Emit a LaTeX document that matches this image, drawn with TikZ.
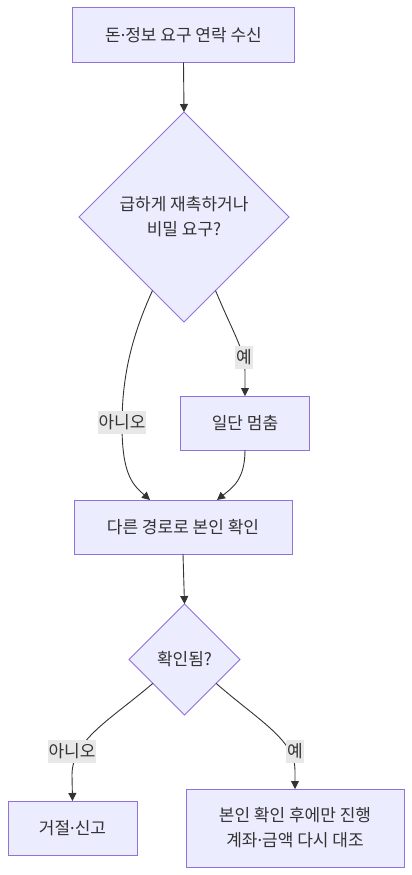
\documentclass[tikz,border=0pt]{standalone}
\usepackage{fontspec}
\setmainfont{Noto Sans CJK KR}
\newfontfamily\latinf{Noto Sans}
\newcommand{\mdot}{{\latinf ·}}
\usetikzlibrary{shapes.geometric,arrows.meta,calc}
\definecolor{nodefill}{HTML}{ECECFF}
\definecolor{nodeline}{HTML}{9370DB}
\definecolor{edgecol}{HTML}{333333}
\definecolor{lblbg}{HTML}{E8E8E8}
\begin{document}
\begin{tikzpicture}[x=1pt,y=-1pt,
  box/.style={draw=nodeline,fill=nodefill,line width=1pt,text=edgecol,font=\fontsize{17}{25}\selectfont,inner sep=0pt,outer sep=0pt,align=center,rectangle},
  dia/.style={draw=nodeline,fill=nodefill,line width=1pt,text=edgecol,font=\fontsize{17}{25}\selectfont,inner sep=0pt,outer sep=0pt,align=center,diamond,aspect=1},
  conn/.style={draw=edgecol,line width=0.9pt,-{Triangle[length=8pt,width=8pt]}},
  lbl/.style={fill=lblbg,text=edgecol,font=\fontsize{17}{25}\selectfont,inner sep=1pt,minimum height=23pt}
]
\useasboundingbox (0,0) rectangle (412,875);
\fill[white] (0,0) rectangle (412,875);
\node[box,minimum width=222pt,minimum height=55pt] (a) at (183.5,35) {돈\mdot 정보 요구 연락 수신};
\node[dia,minimum width=210pt,minimum height=210pt] (d1) at (184,217) {급하게 재촉하거나\\비밀 요구?};
\node[box,minimum width=129pt,minimum height=54pt] (stop) at (245,423) {일단 멈춤};
\node[box,minimum width=218pt,minimum height=54pt] (chk) at (183,527) {다른 경로로 본인 확인};
\node[dia,minimum width=111pt,minimum height=111pt] (d2) at (184.5,659.5) {확인됨?};
\node[box,minimum width=129pt,minimum height=54pt] (rej) at (72.5,828) {거절\mdot 신고};
\node[box,minimum width=218pt,minimum height=78pt] (ok) at (295,828) {본인 확인 후에만 진행\\계좌\mdot 금액 다시 대조};

\coordinate (d1l) at ($(d1.south)!0.3!(d1.west)$);
\coordinate (d1r) at ($(d1.south)!0.3!(d1.east)$);
\coordinate (d2l) at ($(d2.south)!0.57!(d2.west)$);
\coordinate (d2r) at ($(d2.south)!0.57!(d2.east)$);
\coordinate (chkl) at (150,500);
\coordinate (chkr) at (217,500);

\draw[conn] (a.south) -- (d1.north);
\draw[conn] (d1l) .. controls (130,340) and (122,380) .. (122,425) .. controls (122,475) and (133,485) .. (chkl);
\draw[conn] (d1r) .. controls (234,335) and (245,350) .. (245,372) -- (stop.north);
\draw[conn] (stop.south) .. controls (245,480) and (232,488) .. (chkr);
\draw[conn] (chk.south) -- (d2.north);
\draw[conn] (d2l) .. controls (110,720) and (72,740) .. (72,775) -- (rej.north);
\draw[conn] (d2r) .. controls (258,720) and (295,740) .. (295,770) -- (ok.north);

\node[lbl] (l1) at (122,422) {아니오};
\node[lbl] (l2) at (244,357) {예};
\node[lbl] (l3) at (72,751) {아니오};
\node[lbl] (l4) at (295,751) {예};
\end{tikzpicture}
\end{document}
